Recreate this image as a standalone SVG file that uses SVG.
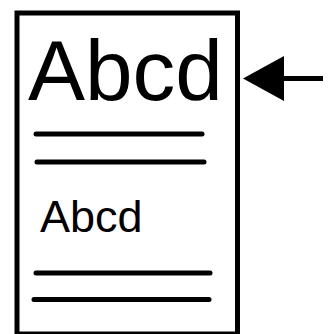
<svg xmlns="http://www.w3.org/2000/svg" width="334" height="334" viewBox="0 0 334 334">
  <style>
    .frame { fill: #fff; stroke: #000; stroke-width: 5; }
    .rule { stroke: #000; stroke-width: 5; stroke-linecap: round; fill: none; }
    .label { font-family: "Liberation Sans", Arial, sans-serif; fill: #000; }
    .connector { stroke: #000; stroke-width: 5; fill: none; }
  </style>
  <rect width="334" height="334" fill="#fff"/>

  <g id="document">
    <rect class="frame" x="17" y="13" width="220.5" height="321"/>
    <text class="label" x="28" y="100" font-size="85.5">Abcd</text>
    <line class="rule" x1="36" y1="134" x2="202" y2="134"/>
    <line class="rule" x1="37" y1="162" x2="204" y2="162"/>
    <text class="label" x="40" y="231.5" font-size="45">Abcd</text>
    <line class="rule" x1="36" y1="273" x2="210" y2="273"/>
    <line class="rule" x1="34" y1="299.5" x2="209" y2="299.5"/>
  </g>

  <g id="connectors">
    <line class="connector" x1="280" y1="78.5" x2="323" y2="78.5"/>
    <polygon points="243,78.5 284,56 284,101" fill="#000"/>
  </g>
</svg>
